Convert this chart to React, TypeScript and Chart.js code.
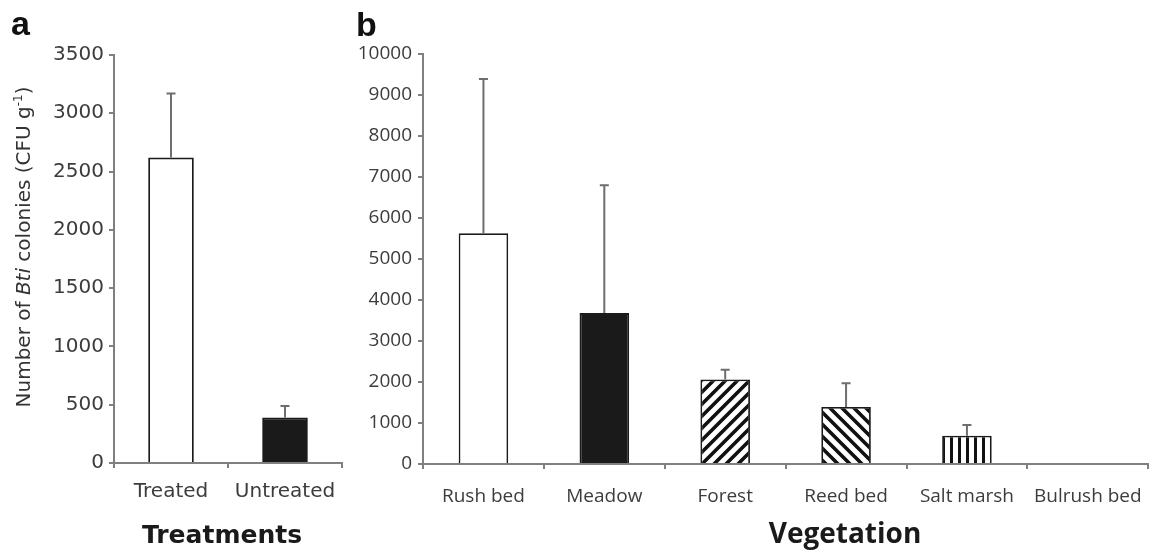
import React, { useEffect, useRef } from 'react';
import { Chart, registerables } from 'chart.js';

Chart.register(...registerables);

// ---------- Data ----------
const treatmentLabels = ['Treated', 'Untreated'];
const treatmentMeans = [2620, 390];
const treatmentErrUpper = [3170, 490];
const treatmentYMax = 3500;
const treatmentYStep = 500;

const vegetationLabels = ['Rush bed', 'Meadow', 'Forest', 'Reed bed', 'Salt marsh', 'Bulrush bed'];
const vegetationMeans = [5630, 3680, 2060, 1390, 690, 0];
const vegetationErrUpper = [9390, 6800, 2300, 1970, 950, 0];
const vegetationYMax = 10000;
const vegetationYStep = 1000;

// ---------- Styles ----------
const AXIS_COLOR = '#808080';
const TICK_COLOR = '#3c3c3c';
const BAR_EDGE = '#1a1a1a';
const ERR_COLOR = '#6e6e6e';

function makePattern(kind: 'fwd' | 'back' | 'vert'): CanvasPattern | string {
  const c = document.createElement('canvas');
  const s = kind === 'vert' ? 8 : 12;
  c.width = s;
  c.height = s;
  const g = c.getContext('2d');
  if (!g) return '#fff';
  g.fillStyle = '#ffffff';
  g.fillRect(0, 0, s, s);
  g.strokeStyle = '#111111';
  g.lineCap = 'square';
  if (kind === 'vert') {
    g.fillStyle = '#111111';
    g.fillRect(0, 0, 3, s);
  } else {
    g.lineWidth = 3.6;
    g.beginPath();
    if (kind === 'fwd') {
      g.moveTo(-2, s + 2); g.lineTo(s + 2, -2);
      g.moveTo(-2, 2); g.lineTo(2, -2);
      g.moveTo(s - 2, s + 2); g.lineTo(s + 2, s - 2);
    } else {
      g.moveTo(-2, -2); g.lineTo(s + 2, s + 2);
      g.moveTo(s - 2, -2); g.lineTo(s + 2, 2);
      g.moveTo(-2, s - 2); g.lineTo(2, s + 2);
    }
    g.stroke();
  }
  const p = g.createPattern(c, 'repeat');
  return p || '#fff';
}

const errorBarPlugin = {
  id: 'errorBars',
  afterDatasetsDraw(chart: any, _args: any, opts: any) {
    const upper: number[] = opts.upper || [];
    const ds = chart.data.datasets[0].data as number[];
    const meta = chart.getDatasetMeta(0);
    const y = chart.scales.y;
    const ctx = chart.ctx;
    ctx.save();
    ctx.strokeStyle = ERR_COLOR;
    ctx.lineWidth = 2;
    meta.data.forEach((bar: any, i: number) => {
      const u = upper[i];
      if (u === undefined || u <= ds[i]) return;
      const x = bar.x;
      const yTop = y.getPixelForValue(u);
      const yBar = y.getPixelForValue(ds[i]);
      ctx.beginPath();
      ctx.moveTo(x, yBar);
      ctx.lineTo(x, yTop);
      ctx.moveTo(x - 4.5, yTop);
      ctx.lineTo(x + 4.5, yTop);
      ctx.stroke();
    });
    ctx.restore();
  },
};

type Seg = { text: string; italic?: boolean; sup?: boolean };

const textPlugin = {
  id: 'extraText',
  afterDraw(chart: any, _args: any, opts: any) {
    const ctx = chart.ctx as CanvasRenderingContext2D;
    const items = opts.items || [];
    items.forEach((it: any) => {
      ctx.save();
      ctx.fillStyle = it.color || '#111';
      ctx.textBaseline = 'alphabetic';
      if (it.segments) {
        const size = it.size;
        const fam = it.family;
        const fontFor = (s: Seg) =>
          `${s.italic ? 'italic ' : ''}${s.sup ? Math.round(size * 0.62) : size}px ${fam}`;
        let total = 0;
        (it.segments as Seg[]).forEach((s) => {
          ctx.font = fontFor(s);
          total += ctx.measureText(s.text).width;
        });
        ctx.translate(it.x, it.cy + total / 2);
        ctx.rotate(-Math.PI / 2);
        let pos = 0;
        ctx.textAlign = 'left';
        (it.segments as Seg[]).forEach((s) => {
          ctx.font = fontFor(s);
          ctx.fillText(s.text, pos, s.sup ? -size * 0.42 : 0);
          pos += ctx.measureText(s.text).width;
        });
      } else {
        ctx.font = it.font;
        ctx.textAlign = it.align || 'left';
        ctx.fillText(it.text, it.x, it.y);
      }
      ctx.restore();
    });
  },
};

function axisOptions(
  fixed: { yWidth: number; xHeight: number },
  fam: string,
  size: number,
  yMax: number,
  yStep: number,
  xPad: number,
  yPad: number
) {
  return {
    x: {
      type: 'category',
      offset: true,
      grid: {
        display: true,
        offset: true,
        drawOnChartArea: false,
        drawTicks: true,
        tickLength: 5,
        color: AXIS_COLOR,
        lineWidth: 2,
      },
      border: { display: true, color: AXIS_COLOR, width: 2 },
      ticks: {
        color: TICK_COLOR,
        font: { family: fam, size },
        padding: xPad,
        maxRotation: 0,
        autoSkip: false,
      },
      afterFit: (s: any) => {
        s.height = fixed.xHeight;
      },
    },
    y: {
      min: 0,
      max: yMax,
      grid: {
        display: true,
        drawOnChartArea: false,
        drawTicks: true,
        tickLength: 5,
        color: AXIS_COLOR,
        lineWidth: 2,
      },
      border: { display: true, color: AXIS_COLOR, width: 2 },
      ticks: {
        stepSize: yStep,
        color: TICK_COLOR,
        font: { family: fam, size },
        padding: yPad,
        callback: (v: any) => String(v),
      },
      afterFit: (s: any) => {
        s.width = fixed.yWidth;
      },
    },
  };
}

function PanelA() {
  const ref = useRef<HTMLCanvasElement | null>(null);
  useEffect(() => {
    if (!ref.current) return;
    const chart = new Chart(ref.current, {
      type: 'bar',
      data: {
        labels: treatmentLabels,
        datasets: [
          {
            data: treatmentMeans,
            backgroundColor: ['#ffffff', '#1a1a1a'],
            borderColor: BAR_EDGE,
            borderWidth: 1.8,
            categoryPercentage: 1,
            barPercentage: 0.4,
          },
        ],
      },
      options: {
        animation: false,
        responsive: false,
        maintainAspectRatio: false,
        layout: { padding: { left: 0, top: 55, right: 8, bottom: 0 } },
        plugins: {
          legend: { display: false },
          tooltip: { enabled: false },
          errorBars: { upper: treatmentErrUpper },
          extraText: {
            items: [
              { text: 'a', x: 11, y: 35, font: 'bold 34px "Liberation Sans", Arial, sans-serif', color: '#111' },
              { text: 'Treatments', x: 222, y: 543, align: 'center', font: 'bold 25px "DejaVu Sans", sans-serif', color: '#1a1a1a' },
              {
                segments: [
                  { text: 'Number of ' },
                  { text: 'Bti', italic: true },
                  { text: ' colonies (CFU g' },
                  { text: '-1', sup: true },
                  { text: ')' },
                ],
                x: 30,
                cy: 247,
                size: 20,
                family: '"DejaVu Sans", sans-serif',
                color: '#333',
              },
            ],
          },
        } as any,
        scales: axisOptions({ yWidth: 114, xHeight: 88 }, '"DejaVu Sans", sans-serif', 20, treatmentYMax, treatmentYStep, 12, 5) as any,
      },
      plugins: [errorBarPlugin, textPlugin],
    });
    return () => chart.destroy();
  }, []);
  return (
    <canvas
      ref={ref}
      width={350}
      height={551}
      style={{ position: 'absolute', left: 0, top: 0, width: 350, height: 551 }}
    />
  );
}

function PanelB() {
  const ref = useRef<HTMLCanvasElement | null>(null);
  useEffect(() => {
    if (!ref.current) return;
    const fills = [
      '#ffffff',
      '#1a1a1a',
      makePattern('fwd'),
      makePattern('back'),
      makePattern('vert'),
      '#ffffff',
    ];
    const chart = new Chart(ref.current, {
      type: 'bar',
      data: {
        labels: vegetationLabels,
        datasets: [
          {
            data: vegetationMeans,
            backgroundColor: fills as any,
            borderColor: BAR_EDGE,
            borderWidth: 1.8,
            categoryPercentage: 1,
            barPercentage: 0.41,
          },
        ],
      },
      options: {
        animation: false,
        responsive: false,
        maintainAspectRatio: false,
        layout: { padding: { left: 0, top: 54, right: 4, bottom: 0 } },
        plugins: {
          legend: { display: false },
          tooltip: { enabled: false },
          errorBars: { upper: vegetationErrUpper },
          extraText: {
            items: [
              { text: 'b', x: 6, y: 36, font: 'bold 34px "Liberation Sans", Arial, sans-serif', color: '#111' },
              { text: 'Vegetation', x: 495, y: 543, align: 'center', font: 'bold 28px "Open Sans", sans-serif', color: '#1a1a1a' },
            ],
          },
        } as any,
        scales: axisOptions({ yWidth: 73, xHeight: 87 }, '"Open Sans", sans-serif', 19, vegetationYMax, vegetationYStep, 16, 6) as any,
      },
      plugins: [errorBarPlugin, textPlugin],
    });
    return () => chart.destroy();
  }, []);
  return (
    <canvas
      ref={ref}
      width={808}
      height={551}
      style={{ position: 'absolute', left: 350, top: 0, width: 808, height: 551 }}
    />
  );
}

export default function App() {
  return (
    <div
      style={{
        position: 'absolute',
        left: 0,
        top: 0,
        width: 1158,
        height: 551,
        background: '#ffffff',
        overflow: 'hidden',
      }}
    >
      <PanelA />
      <PanelB />
    </div>
  );
}
